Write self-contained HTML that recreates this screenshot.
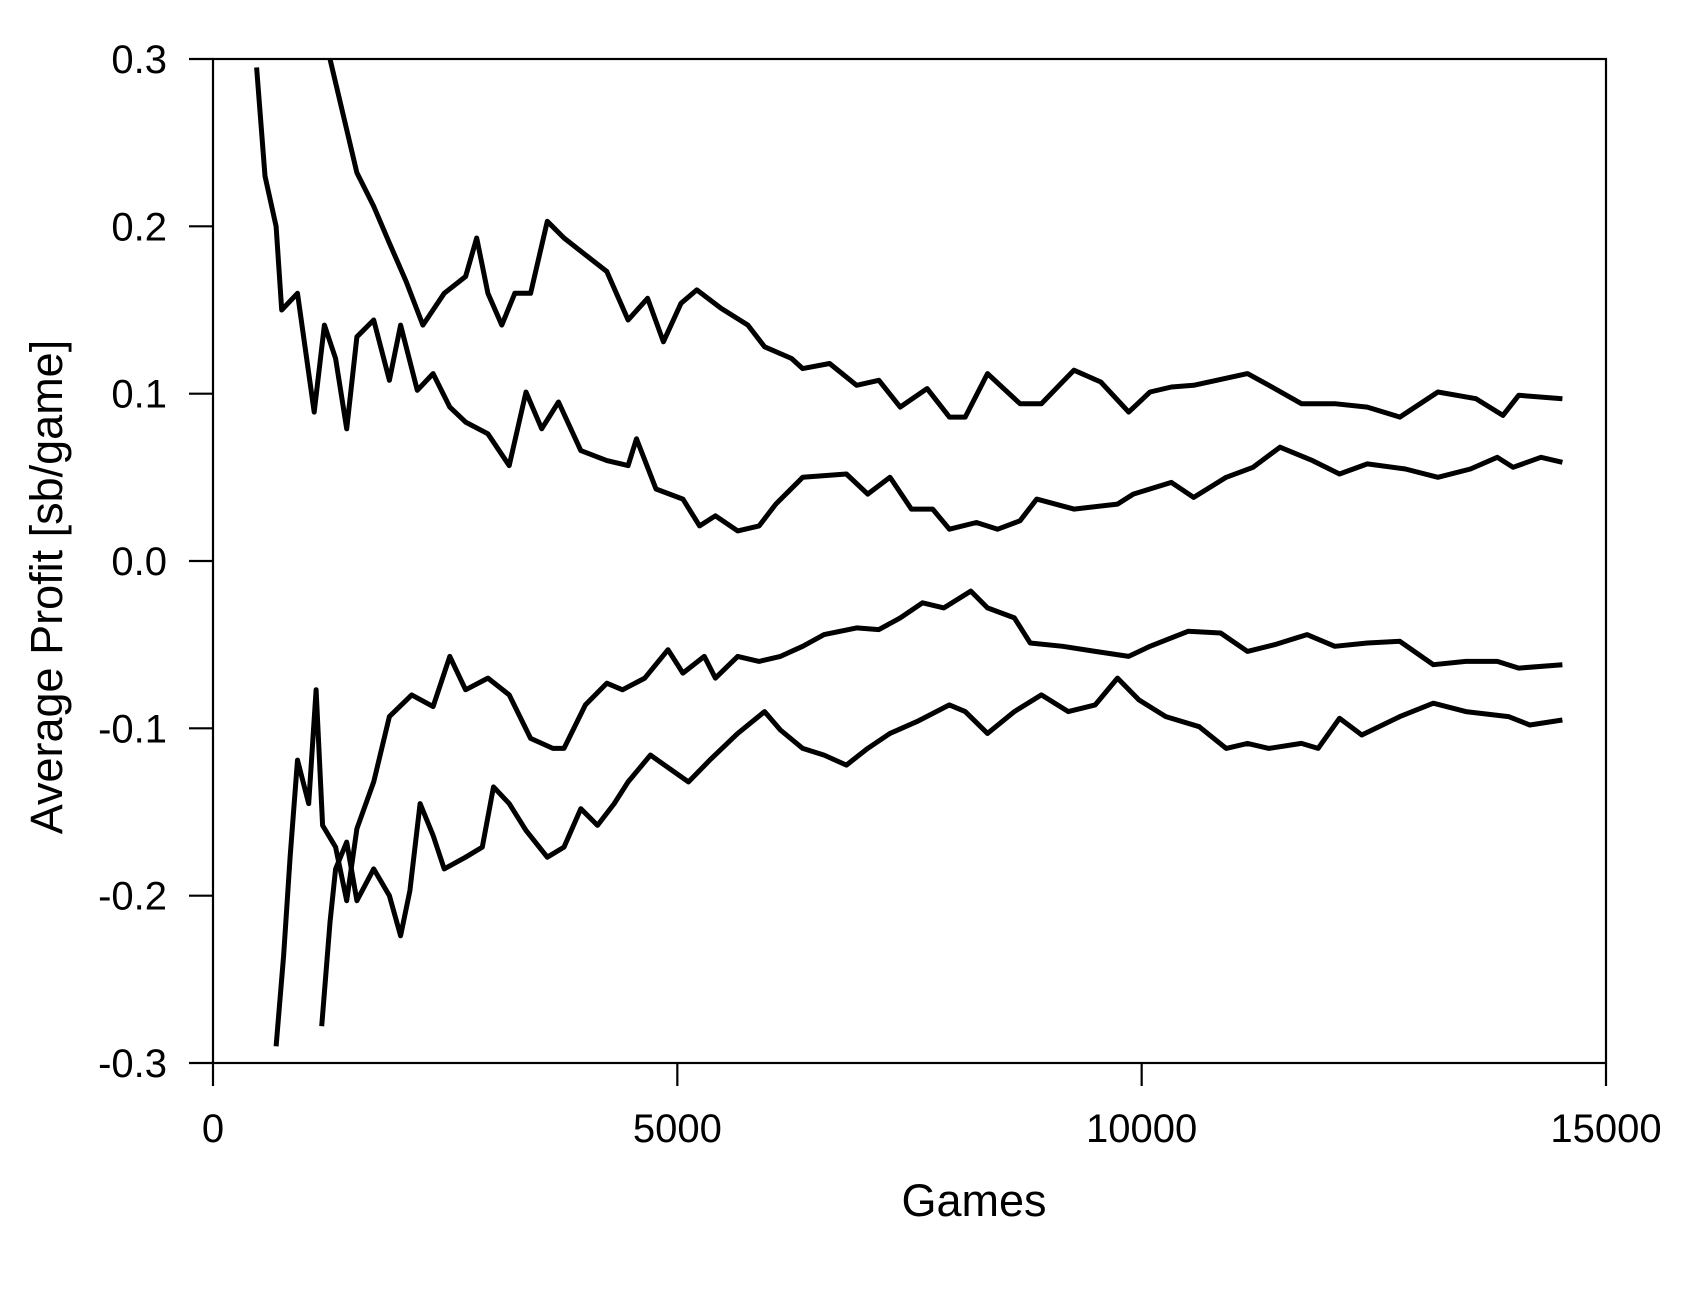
<!DOCTYPE html>
<html><head><meta charset="utf-8"><style>
body{margin:0;background:#fff}
svg{display:block}
text{font-family:"Liberation Sans",sans-serif;fill:#000}
</style></head><body>
<svg id="chart" width="1701" height="1299" viewBox="0 0 1701 1299">
<defs><clipPath id="pc"><rect x="213" y="59" width="1393" height="1004"/></clipPath></defs>
<rect x="213" y="59" width="1393" height="1004" fill="none" stroke="#000" stroke-width="2.2"/>
<g id="xaxis"></g>
<g id="yaxis"></g>
<g id="series" clip-path="url(#pc)"></g>
<text x="974" y="1216" font-size="45" text-anchor="middle">Games</text>
<text transform="translate(62,587) rotate(-90)" font-size="45" text-anchor="middle">Average Profit [sb/game]</text>
</svg>
<script>
const xTicks=[0,5000,10000,15000];
const yTicks=[0.3,0.2,0.1,0.0,-0.1,-0.2,-0.3];
const yTickLabels=["0.3","0.2","0.1","0.0","-0.1","-0.2","-0.3"];
const gamesA=[1260,1550,1730,1900,2080,2260,2490,2720,2840,2960,3110,3250,3420,3600,3780,4010,4240,4470,4680,4850,5040,5210,5470,5760,5940,6230,6350,6640,6930,7170,7400,7690,7930,8100,8340,8690,8920,9270,9560,9860,10090,10320,10560,11140,11370,11720,12080,12430,12780,13190,13600,13890,14060,14530];
const valuesA=[0.300,0.232,0.212,0.190,0.167,0.141,0.160,0.170,0.193,0.160,0.141,0.160,0.160,0.203,0.193,0.183,0.173,0.144,0.157,0.131,0.154,0.162,0.151,0.141,0.128,0.121,0.115,0.118,0.105,0.108,0.092,0.103,0.086,0.086,0.112,0.094,0.094,0.114,0.107,0.089,0.101,0.104,0.105,0.112,0.105,0.094,0.094,0.092,0.086,0.101,0.097,0.087,0.099,0.097];
const gamesB=[470,560,680,740,910,1090,1200,1320,1440,1550,1730,1900,2020,2200,2370,2550,2720,2960,3190,3370,3540,3720,3960,4240,4470,4560,4770,5060,5240,5410,5650,5880,6060,6350,6820,7050,7290,7520,7750,7930,8220,8450,8690,8870,9270,9740,9910,10320,10560,10910,11200,11490,11840,12130,12430,12840,13190,13540,13830,14000,14300,14530];
const valuesB=[0.295,0.23,0.20,0.15,0.16,0.089,0.141,0.121,0.079,0.134,0.144,0.108,0.141,0.102,0.112,0.092,0.083,0.076,0.057,0.101,0.079,0.095,0.066,0.060,0.057,0.073,0.043,0.037,0.021,0.027,0.018,0.021,0.034,0.050,0.052,0.040,0.050,0.031,0.031,0.019,0.023,0.019,0.024,0.037,0.031,0.034,0.040,0.047,0.038,0.050,0.056,0.068,0.060,0.052,0.058,0.055,0.050,0.055,0.062,0.056,0.062,0.059];
const gamesC=[680,760,830,910,1030,1110,1180,1320,1440,1550,1730,1900,2140,2370,2550,2720,2960,3190,3420,3660,3780,4010,4240,4410,4650,4900,5060,5290,5410,5650,5880,6110,6350,6580,6930,7170,7400,7640,7870,8160,8340,8630,8800,9150,9500,9860,10090,10500,10850,11140,11430,11780,12080,12430,12780,13140,13490,13830,14060,14530];
const valuesC=[-0.290,-0.236,-0.177,-0.119,-0.145,-0.077,-0.158,-0.171,-0.203,-0.160,-0.132,-0.093,-0.080,-0.087,-0.057,-0.077,-0.070,-0.080,-0.106,-0.112,-0.112,-0.086,-0.073,-0.077,-0.070,-0.053,-0.067,-0.057,-0.070,-0.057,-0.060,-0.057,-0.051,-0.044,-0.040,-0.041,-0.034,-0.025,-0.028,-0.018,-0.028,-0.034,-0.049,-0.051,-0.054,-0.057,-0.051,-0.042,-0.043,-0.054,-0.050,-0.044,-0.051,-0.049,-0.048,-0.062,-0.060,-0.060,-0.064,-0.062];
const gamesD=[1170,1260,1320,1440,1550,1730,1900,2020,2120,2230,2370,2490,2720,2900,3020,3190,3370,3600,3780,3960,4140,4320,4470,4710,4940,5120,5350,5650,5940,6110,6350,6580,6820,7050,7290,7580,7930,8100,8340,8630,8920,9210,9500,9740,9970,10260,10620,10910,11140,11370,11720,11900,12130,12370,12780,13140,13490,13950,14180,14530];
const valuesD=[-0.278,-0.216,-0.184,-0.168,-0.203,-0.184,-0.200,-0.224,-0.197,-0.145,-0.164,-0.184,-0.177,-0.171,-0.135,-0.145,-0.161,-0.177,-0.171,-0.148,-0.158,-0.145,-0.132,-0.116,-0.125,-0.132,-0.119,-0.103,-0.090,-0.101,-0.112,-0.116,-0.122,-0.112,-0.103,-0.096,-0.086,-0.090,-0.103,-0.090,-0.080,-0.090,-0.086,-0.070,-0.083,-0.093,-0.099,-0.112,-0.109,-0.112,-0.109,-0.112,-0.094,-0.104,-0.093,-0.085,-0.090,-0.093,-0.098,-0.095];

const X0=213,X1=1606,Y0=59,Y1=1063;
const xs=v=>X0+v/15000*(X1-X0);
const ys=v=>Y0+(0.3-v)/0.6*(Y1-Y0);
const NS="http://www.w3.org/2000/svg";
function mk(t,a){const e=document.createElementNS(NS,t);for(const k in a)e.setAttribute(k,a[k]);return e;}
const xa=document.getElementById('xaxis'),ya=document.getElementById('yaxis'),sg=document.getElementById('series');
xTicks.forEach(t=>{
  const l=mk('line',{x1:xs(t),x2:xs(t),y1:Y1,y2:Y1+23,stroke:'#000','stroke-width':2.2});
  
  
  xa.appendChild(l);
  const tx=mk('text',{x:xs(t),y:1142,'font-size':40,'text-anchor':'middle'});
  
  
  tx.textContent=String(t);xa.appendChild(tx);
});
yTicks.forEach((t,i)=>{
  const l=mk('line',{x1:X0-24,x2:X0,y1:ys(t),y2:ys(t),stroke:'#000','stroke-width':2.2});
  
  
  ya.appendChild(l);
  const tx=mk('text',{x:167,y:ys(t)+14,'font-size':40,'text-anchor':'end'});
  
  
  tx.textContent=yTickLabels[i];ya.appendChild(tx);
});
[[gamesA,valuesA,'series-a'],[gamesB,valuesB,'series-b'],[gamesC,valuesC,'series-c'],[gamesD,valuesD,'series-d']].forEach(([g,v,n])=>{
  const d=g.map((x,i)=>(i?'L':'M')+xs(x).toFixed(1)+','+ys(v[i]).toFixed(1)).join('');
  const p=mk('path',{d:d,fill:'none',stroke:'#000','stroke-width':5,'stroke-linejoin':'round'});
  
  
  sg.appendChild(p);
});
</script>
</body></html>
